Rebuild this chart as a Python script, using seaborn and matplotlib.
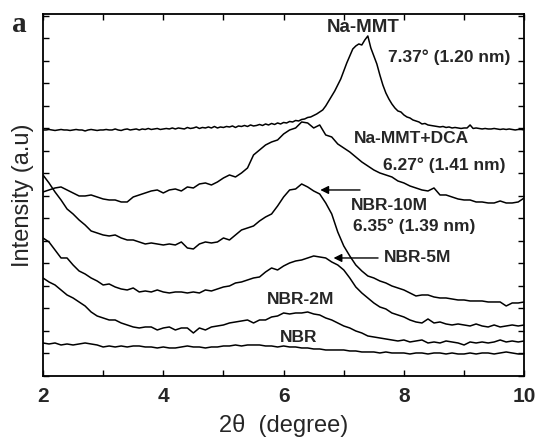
import numpy as np
import pandas as pd
import seaborn as sns
from matplotlib import pyplot as plt
from matplotlib.ticker import FixedLocator

# XRD patterns, 2theta in degrees
two_theta = np.round(np.arange(2.0, 10.0001, 0.1), 2)
two_theta_fine = np.round(np.arange(2.0, 10.0001, 0.05), 2)

# intensities read as depth below the top of the frame (a.u.), converted below
na_mmt = [130, 130, 129.5, 130, 130.5, 130, 129.5, 130, 130, 130.5, 130, 129.5, 130, 130, 131, 130, 129.5, 130, 130.5, 130,
          130, 129.5, 130, 130, 129, 130, 130.5, 129.5, 129, 130, 129.5, 129, 130, 129, 129.5, 128.5, 129.5, 129, 128.5, 129.5,
          129, 128.5, 129, 128, 129, 128, 128.5, 129, 127.5, 128.5, 128, 127, 128.5, 127.5, 128, 127, 128, 126.5, 128, 127,
          127.5, 126.5, 127, 126, 127.5, 126, 126.5, 125.5, 126.5, 125, 126, 125.5, 124.5, 125.5, 124, 125, 123.5, 124.5, 123, 124,
          122.5, 123, 121.5, 122, 120.5, 121, 119.5, 119, 117.5, 117, 115.5, 114, 112, 110, 106, 101, 96, 91, 85, 79,
          71, 63, 56, 49, 46, 44, 45, 40, 36, 48, 56, 64, 75, 85, 93, 99, 104, 108, 111, 112,
          115, 117, 118, 120, 121, 122, 124, 123.5, 125, 125.5, 126, 126.5, 127, 126.5, 127.5, 127, 128, 127.5, 128, 128.5,
          128, 128, 125, 128.5, 128, 128.5, 129, 128.5, 129, 129, 128.5, 129, 129.5, 129, 129.5, 129, 129.5, 130, 129.5, 129.5,
          130]
na_mmt_dca = [192, 190, 188, 187, 190, 193, 196, 196, 195, 197,
              199, 200, 200, 202, 202, 197, 195, 193, 191, 190,
              193, 190, 189, 191, 187, 188, 184, 183, 185, 182,
              178, 175, 177, 173, 168, 155, 150, 145, 142, 140,
              134, 130, 128, 122, 123, 128, 125, 135, 137, 144,
              148, 152, 157, 162, 166, 170, 173, 175, 177, 181,
              183, 186, 188, 190, 191, 188, 195, 195, 197, 199,
              200, 200, 202, 202, 203, 203, 201, 203, 203, 202,
              198]
nbr_10m = [175, 183, 192, 200, 209, 214, 220, 225, 231, 233,
           235, 236, 235, 238, 240, 240, 242, 244, 243, 244,
           245, 244, 245, 242, 248, 249, 244, 242, 243, 242,
           238, 240, 235, 230, 228, 226, 221, 217, 214, 206,
           197, 190, 189, 184, 187, 191, 194, 203, 214, 232,
           246, 256, 265, 271, 276, 278, 281, 283, 286, 288,
           290, 293, 296, 295, 295, 297, 298, 298, 299, 300,
           300, 301, 301, 301, 302, 302, 302, 306, 303, 303,
           302]
nbr_5m = [238, 242, 250, 258, 258, 265, 271, 274, 278, 281,
          285, 284, 287, 289, 290, 288, 292, 291, 292, 290,
          292, 293, 292, 292, 293, 292, 293, 290, 291, 289,
          287, 286, 283, 282, 280, 278, 277, 272, 268, 270,
          266, 263, 261, 260, 258, 256, 257, 258, 262, 265,
          270, 278, 287, 293, 298, 303, 307, 309, 313, 315,
          317, 320, 322, 323, 319, 323, 322, 324, 325, 324,
          325, 326, 324, 326, 327, 325, 327, 326, 325, 326,
          325]
nbr_2m = [278, 282, 285, 290, 295, 298, 302, 306, 312, 316,
          318, 320, 320, 323, 325, 327, 328, 327, 327, 330,
          328, 327, 330, 328, 328, 333, 328, 330, 327, 326,
          325, 323, 322, 321, 320, 323, 320, 320, 317, 316,
          313, 314, 313, 313, 312, 314, 315, 318, 320, 323,
          326, 328, 331, 333, 336, 337, 338, 339, 340, 341,
          340, 342, 341, 340, 343, 342, 343, 341, 342, 343,
          345, 342, 343, 342, 343, 342, 340, 342, 341, 342,
          341]
nbr = [343, 344, 343, 345, 344, 345, 344, 343, 344, 345,
       347, 346, 347, 346, 347, 346, 346, 347, 347, 348,
       347, 348, 348, 347, 346, 347, 347, 348, 347, 347,
       346, 346, 345, 346, 345, 345, 345, 346, 346, 347,
       346, 347, 347, 348, 348, 349, 349, 350, 350, 350,
       350, 351, 351, 352, 352, 352, 353, 352, 353, 353,
       353, 354, 353, 353, 354, 353, 353, 354, 353, 354,
       354, 353, 354, 353, 353, 354, 353, 352, 353, 354,
       354]

FRAME = 376  # bottom of the frame on the depth scale

sns.set_style('ticks')
plt.rcParams['font.family'] = ['Liberation Sans', 'DejaVu Sans']

fig = plt.figure(figsize=(5.38, 4.45), dpi=100)
ax = fig.add_axes([0.0799, 0.1551, 0.8945, 0.8135])

sns.lineplot(x=two_theta_fine, y=FRAME - np.array(na_mmt), color='black', lw=1.1, ax=ax)
for depth in [na_mmt_dca, nbr_10m, nbr_5m, nbr_2m, nbr]:
    sns.lineplot(x=two_theta, y=FRAME - np.array(depth), color='black', lw=1.1, ax=ax)

ax.set_xlim(2, 10)
ax.set_ylim(0, 362)

ax.xaxis.set_major_locator(FixedLocator([2, 4, 6, 8, 10]))
ax.xaxis.set_minor_locator(FixedLocator([3, 5, 7, 9]))
ax.yaxis.set_major_locator(FixedLocator(np.arange(0, 362, 22.5)))
ax.set_yticklabels([])
ax.tick_params(which='both', direction='in', top=True, right=True, length=4, width=1, color='black')
ax.tick_params(axis='x', which='major', labelsize=15, pad=8)
for lbl in ax.get_xticklabels():
    lbl.set_fontweight('bold')
for side in ax.spines.values():
    side.set_linewidth(1.3)
    side.set_color('black')

ax.set_xlabel('2\u03b8  (degree)', fontsize=17, labelpad=6)
ax.set_ylabel('Intensity (a.u)', fontsize=17, labelpad=3)

kw = dict(fontsize=12.5, fontweight='bold', va='center')
ax.text(7.32, 348.5, 'Na-MMT', ha='center', fontsize=13.5, fontweight='bold', va='center')
ax.text(7.73, 319, '7.37\u00b0 (1.20 nm)', ha='left', **kw)
ax.text(7.16, 237, 'Na-MMT+DCA', ha='left', **kw)
ax.text(7.66, 211, '6.27\u00b0 (1.41 nm)', ha='left', **kw)
ax.text(7.11, 170, 'NBR-10M', ha='left', **kw)
ax.text(7.16, 150, '6.35\u00b0 (1.39 nm)', ha='left', **kw)
ax.text(7.66, 118, 'NBR-5M', ha='left', **kw)
ax.text(5.73, 76, 'NBR-2M', ha='left', **kw)
ax.text(5.94, 38, 'NBR', ha='left', **kw)

arrow = dict(arrowstyle='-|>', color='black', lw=1, mutation_scale=12, shrinkA=0, shrinkB=0)
ax.annotate('', xy=(6.61, 186), xytext=(7.27, 186), arrowprops=arrow)
ax.annotate('', xy=(6.83, 118), xytext=(7.57, 118), arrowprops=arrow)

fig.text(19 / 538, 1 - 25 / 445, 'a', fontsize=21, fontweight='bold',
         family='Liberation Serif', ha='center', va='center')

fig.savefig('out.png', dpi=100)
